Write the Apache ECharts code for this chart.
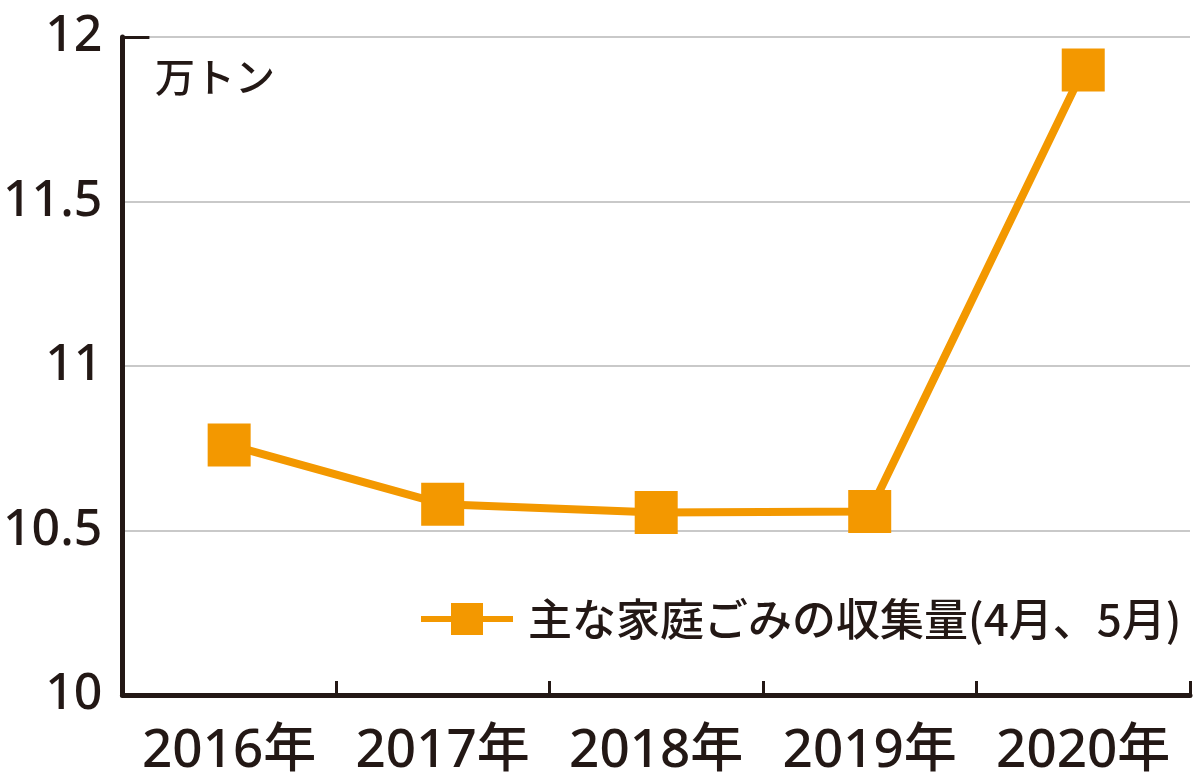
<!DOCTYPE html>
<html>
<head>
<meta charset="utf-8">
<script src="https://cdn.jsdelivr.net/npm/echarts@6/dist/echarts.min.js"></script>
<style>
html,body{margin:0;padding:0;background:#fff;}
#chart{width:1200px;height:783px;}
</style>
</head>
<body>
<div id="chart"></div>
<script>
const categories = ['2016年', '2017年', '2018年', '2019年', '2020年'];
const seriesName = '主な家庭ごみの収集量(4月、5月)';
const values = [10.76, 10.58, 10.555, 10.558, 11.9];
const unitLabel = '万トン';
const yMin = 10, yMax = 12, yInterval = 0.5;

const ink = '#231815';
const orange = '#f39800';
const chart = echarts.init(document.getElementById('chart'));
chart.setOption({
  backgroundColor: '#ffffff',
  animation: false,
  title: {
    text: unitLabel,
    left: 150,
    top: 52,
    textStyle: { fontFamily: 'Noto Sans CJK JP', fontSize: 40, fontWeight: 500, color: ink }
  },
  legend: {
    left: 413,
    top: 592,
    itemWidth: 92,
    itemHeight: 40,
    data: [seriesName],
    lineStyle: { width: 6 },
    textStyle: { fontFamily: 'Noto Sans CJK JP', fontSize: 44, fontWeight: 500, color: ink, padding: [0, 0, 0, 10] }
  },
  grid: { left: 121, right: 10, top: 37, bottom: 88, containLabel: false },
  xAxis: {
    type: 'category',
    data: categories,
    boundaryGap: true,
    axisLine: { lineStyle: { color: ink, width: 5 } },
    axisTick: { show: true, inside: true, interval: 0, length: 14, lineStyle: { color: ink, width: 3 } },
    axisLabel: { interval: 0, margin: 30, fontFamily: 'Noto Sans, Noto Sans CJK JP', fontSize: 53, fontWeight: 500, color: ink }
  },
  yAxis: [{
    type: 'value',
    min: yMin, max: yMax, interval: yInterval,
    axisLine: { show: true, lineStyle: { color: ink, width: 5 } },
    axisTick: { show: false },
    axisLabel: {
      margin: 20, fontFamily: 'Noto Sans', fontSize: 50, fontWeight: 500, color: ink,
      formatter: v => String(v)
    },
    splitLine: { show: true, lineStyle: { color: '#c9c9c9', width: 2 } }
  }, {
    type: 'value',
    position: 'left',
    min: yMin, max: yMax, interval: 2,
    axisLine: { show: false },
    axisTick: { show: true, inside: true, length: 27, lineStyle: { color: ink, width: 3 } },
    axisLabel: { show: false },
    splitLine: { show: false }
  }],
  series: [{
    name: seriesName,
    type: 'line',
    data: values,
    symbol: 'rect',
    symbolSize: 43,
    showSymbol: true,
    itemStyle: { color: orange },
    lineStyle: { color: orange, width: 8 },
    z: 5
  }]
});
</script>
</body>
</html>
